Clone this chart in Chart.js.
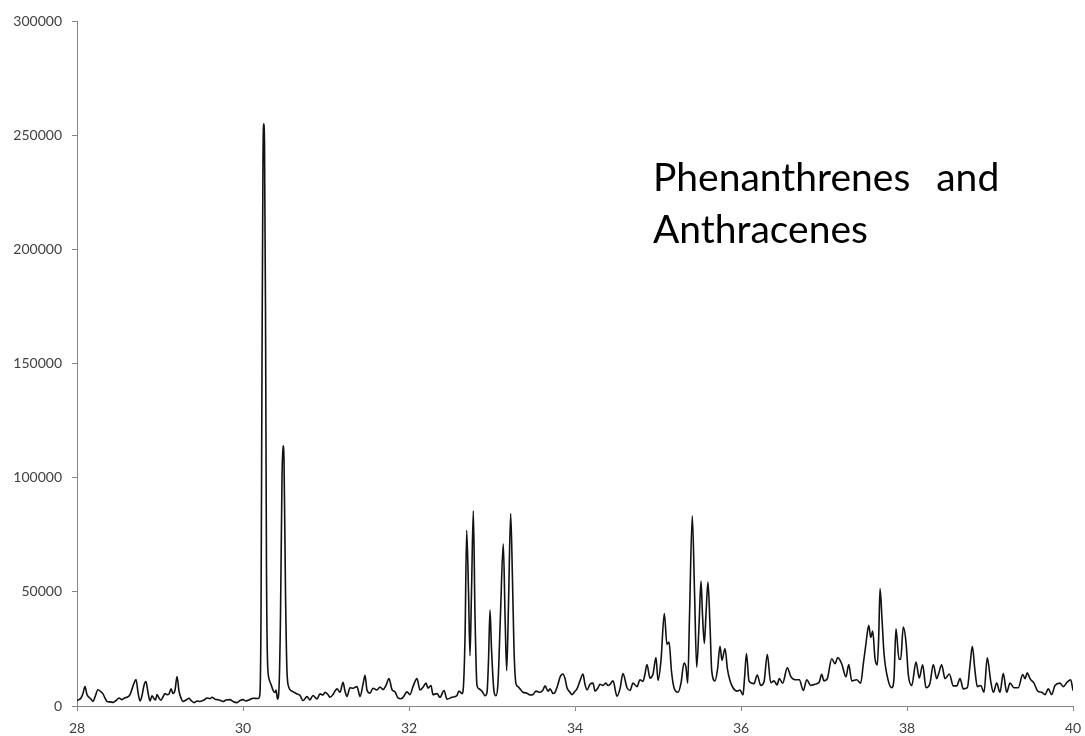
<!DOCTYPE html>
<html>
<head>
<meta charset="utf-8">
<script src="https://cdn.jsdelivr.net/npm/chart.js@4/dist/chart.umd.min.js"></script>
<style>
  body { margin: 0; background: #fff; }
  #wrap { position: relative; width: 1085px; height: 736px; }
  #note {
    position: absolute;
    left: 653px;
    top: 150px;
    font-family: Lato, sans-serif;
    font-size: 39px;
    line-height: 52px;
    word-spacing: 3px;
    color: #000;
    white-space: pre;
  }
</style>
</head>
<body>
<div id="wrap">
  <canvas id="chart" width="1085" height="736"></canvas>
  <div id="note"></div>
</div>
<script>
// Annotation text
const noteLines = ["Phenanthrenes  and", "Anthracenes"];

// Retention time (min)
const retentionTimes = [
  28.000, 28.024, 28.048, 28.072, 28.096, 28.120, 28.145, 28.169, 28.193, 28.217,
  28.253, 28.289, 28.313, 28.337, 28.361, 28.398, 28.434, 28.470, 28.506, 28.542,
  28.578, 28.602, 28.639, 28.663, 28.687, 28.711, 28.735, 28.759, 28.783, 28.807,
  28.831, 28.855, 28.880, 28.904, 28.928, 28.946, 28.964, 28.988, 29.012, 29.036,
  29.060, 29.084, 29.108, 29.133, 29.157, 29.181, 29.205, 29.229, 29.253, 29.277,
  29.313, 29.349, 29.373, 29.410, 29.446, 29.482, 29.530, 29.566, 29.602, 29.627,
  29.663, 29.687, 29.723, 29.759, 29.795, 29.843, 29.880, 29.928, 29.964, 30.000,
  30.036, 30.084, 30.120, 30.169, 30.193, 30.205, 30.217, 30.229, 30.241, 30.249,
  30.259, 30.271, 30.283, 30.295, 30.313, 30.337, 30.361, 30.386, 30.398, 30.416,
  30.434, 30.452, 30.470, 30.482, 30.494, 30.512, 30.530, 30.554, 30.590, 30.639,
  30.687, 30.723, 30.771, 30.807, 30.843, 30.892, 30.928, 30.964, 30.988, 31.024,
  31.048, 31.084, 31.108, 31.133, 31.169, 31.205, 31.229, 31.253, 31.289, 31.325,
  31.373, 31.410, 31.446, 31.470, 31.494, 31.530, 31.566, 31.614, 31.651, 31.687,
  31.723, 31.759, 31.795, 31.831, 31.867, 31.904, 31.928, 31.976, 32.012, 32.048,
  32.096, 32.133, 32.169, 32.205, 32.229, 32.265, 32.289, 32.337, 32.373, 32.422,
  32.458, 32.518, 32.578, 32.602, 32.639, 32.651, 32.675, 32.695, 32.717, 32.735,
  32.753, 32.775, 32.795, 32.819, 32.843, 32.880, 32.916, 32.940, 32.958, 32.976,
  32.994, 33.024, 33.048, 33.072, 33.102, 33.136, 33.157, 33.177, 33.199, 33.225,
  33.247, 33.265, 33.289, 33.313, 33.337, 33.373, 33.422, 33.458, 33.494, 33.530,
  33.578, 33.614, 33.639, 33.675, 33.699, 33.735, 33.759, 33.795, 33.819, 33.855,
  33.880, 33.904, 33.940, 33.964, 34.000, 34.024, 34.060, 34.096, 34.120, 34.145,
  34.181, 34.217, 34.241, 34.277, 34.301, 34.337, 34.373, 34.398, 34.422, 34.458,
  34.506, 34.542, 34.578, 34.627, 34.663, 34.699, 34.747, 34.783, 34.819, 34.843,
  34.867, 34.904, 34.940, 34.976, 35.000, 35.036, 35.076, 35.108, 35.133, 35.163,
  35.193, 35.241, 35.277, 35.313, 35.337, 35.358, 35.380, 35.413, 35.440, 35.466,
  35.494, 35.518, 35.536, 35.558, 35.578, 35.602, 35.627, 35.647, 35.687, 35.717,
  35.747, 35.771, 35.807, 35.837, 35.867, 35.904, 35.952, 35.988, 36.024, 36.042,
  36.066, 36.096, 36.133, 36.157, 36.196, 36.237, 36.277, 36.317, 36.358, 36.398,
  36.434, 36.461, 36.502, 36.558, 36.599, 36.651, 36.702, 36.751, 36.792, 36.840,
  36.892, 36.943, 36.972, 37.000, 37.040, 37.093, 37.133, 37.165, 37.213, 37.265,
  37.298, 37.334, 37.394, 37.442, 37.474, 37.506, 37.539, 37.563, 37.587, 37.614,
  37.642, 37.659, 37.675, 37.699, 37.723, 37.775, 37.816, 37.843, 37.867, 37.904,
  37.924, 37.955, 37.988, 38.016, 38.057, 38.108, 38.148, 38.189, 38.229, 38.277,
  38.317, 38.358, 38.380, 38.418, 38.458, 38.510, 38.558, 38.599, 38.639, 38.678,
  38.727, 38.759, 38.787, 38.819, 38.847, 38.888, 38.928, 38.967, 39.008, 39.040,
  39.081, 39.120, 39.160, 39.201, 39.241, 39.289, 39.341, 39.394, 39.422, 39.449,
  39.482, 39.530, 39.575, 39.623, 39.663, 39.702, 39.743, 39.783, 39.843, 39.883,
  39.931, 39.972, 40.000
];

// Abundance (counts)
const abundance = [
  2400, 2800, 3500, 5500, 8500, 5000, 3800, 3000, 2000, 4000,
  7100, 6200, 5300, 3500, 2000, 1800, 1600, 2400, 3500, 2800,
  3600, 3800, 5000, 7500, 10000, 11600, 6000, 2200, 4500, 9000,
  10700, 6000, 2200, 4500, 3200, 2600, 5000, 3500, 2500, 4000,
  5400, 5000, 5200, 7500, 5500, 7000, 12900, 6500, 3500, 2000,
  2600, 3400, 2500, 1500, 2200, 2000, 2600, 3500, 3200, 3800,
  3000, 2800, 2500, 2000, 2600, 2800, 2000, 1500, 2400, 2800,
  2200, 2800, 3400, 3300, 3500, 6000, 40000, 150000, 240000, 255000,
  247000, 175000, 60000, 20000, 12000, 9500, 7000, 6000, 7000, 3000,
  8000, 40000, 100000, 114000, 108000, 50000, 15000, 8000, 6500, 5500,
  4600, 2400, 4100, 2700, 4600, 3100, 5300, 4800, 6000, 5000,
  3800, 5000, 6500, 7500, 6000, 10400, 6500, 4200, 8000, 7800,
  8500, 4200, 9500, 13400, 7000, 5600, 7800, 7000, 8300, 7200,
  9000, 12000, 7200, 6200, 3600, 3200, 3800, 6200, 5000, 8500,
  12000, 7000, 8200, 10000, 7800, 9000, 5000, 5400, 3800, 6800,
  3000, 3800, 4600, 6600, 5400, 6500, 30000, 77000, 50000, 22000,
  50000, 85500, 40000, 9000, 7500, 6500, 4500, 6000, 20000, 42000,
  25000, 6500, 4500, 10000, 40000, 71000, 40000, 15500, 45000, 84300,
  55000, 25000, 9800, 8500, 7500, 6000, 5600, 4800, 5000, 6500,
  6000, 7000, 8800, 6500, 7500, 5500, 6000, 9500, 12600, 14000,
  12000, 8000, 6000, 5000, 6500, 7500, 11000, 14000, 9500, 7000,
  9500, 10000, 6500, 8000, 9500, 9000, 10000, 9000, 9500, 11000,
  4300, 7500, 14200, 8000, 6800, 10000, 8500, 11500, 10800, 14000,
  18200, 12200, 14000, 21200, 11200, 20000, 40500, 27000, 28000, 15000,
  8000, 6000, 10000, 18800, 17000, 10000, 40000, 83300, 50000, 17000,
  35000, 54700, 40000, 27400, 40000, 54300, 35000, 15600, 11000, 16000,
  26200, 20000, 25200, 16000, 11200, 8000, 6500, 7000, 4800, 12000,
  23000, 11000, 10000, 9800, 13600, 9000, 10500, 22600, 10200, 11000,
  9200, 12000, 10000, 16700, 13000, 11500, 11500, 6800, 11500, 9000,
  9500, 10500, 13900, 11000, 12000, 20700, 18500, 21200, 18500, 12800,
  18200, 11000, 11500, 10000, 18600, 27400, 35300, 30000, 32800, 21000,
  18000, 30000, 51400, 38000, 23000, 11000, 8000, 12000, 33800, 20500,
  20500, 34600, 28000, 13600, 9000, 19200, 12300, 18000, 8000, 10000,
  18200, 12000, 14000, 18000, 12000, 14000, 8800, 8800, 12000, 7500,
  8000, 17800, 26100, 15400, 8500, 9000, 6000, 21100, 11000, 6000,
  10000, 6000, 14300, 6000, 10000, 8000, 8000, 13800, 12000, 14500,
  12000, 10000, 6500, 6000, 5000, 7500, 5000, 9000, 10000, 8500,
  10500, 11500, 6800
];

const axisColor = "#868686";
const labelColor = "#404040";
const tickFont = { family: "Lato, sans-serif", size: 14 };

document.getElementById("note").textContent = noteLines.join("\n");

const points = retentionTimes.map((t, i) => ({ x: t, y: abundance[i] }));

new Chart(document.getElementById("chart"), {
  type: "line",
  data: {
    datasets: [{
      data: points,
      borderColor: "#111",
      borderWidth: 1.6,
      pointRadius: 0,
      fill: false,
      cubicInterpolationMode: "monotone",
    }],
  },
  options: {
    responsive: false,
    animation: false,
    layout: { padding: { top: 21, right: 12, left: 0, bottom: 0 } },
    plugins: { legend: { display: false }, tooltip: { enabled: false } },
    scales: {
      x: {
        type: "linear",
        min: 28,
        max: 40,
        ticks: { stepSize: 2, color: labelColor, font: tickFont, padding: 9, maxRotation: 0 },
        grid: { drawOnChartArea: false, tickLength: 5, color: axisColor },
        border: { color: axisColor },
        afterFit: (s) => { s.height = 30; s.paddingLeft = 0; s.paddingRight = 0; },
      },
      y: {
        min: 0,
        max: 300000,
        ticks: { stepSize: 50000, color: labelColor, font: tickFont, padding: 10, callback: (v) => String(v) },
        grid: { drawOnChartArea: false, tickLength: 5, color: axisColor },
        border: { color: axisColor },
        afterFit: (s) => { s.width = 77; },
      },
    },
  },
});
</script>
</body>
</html>
